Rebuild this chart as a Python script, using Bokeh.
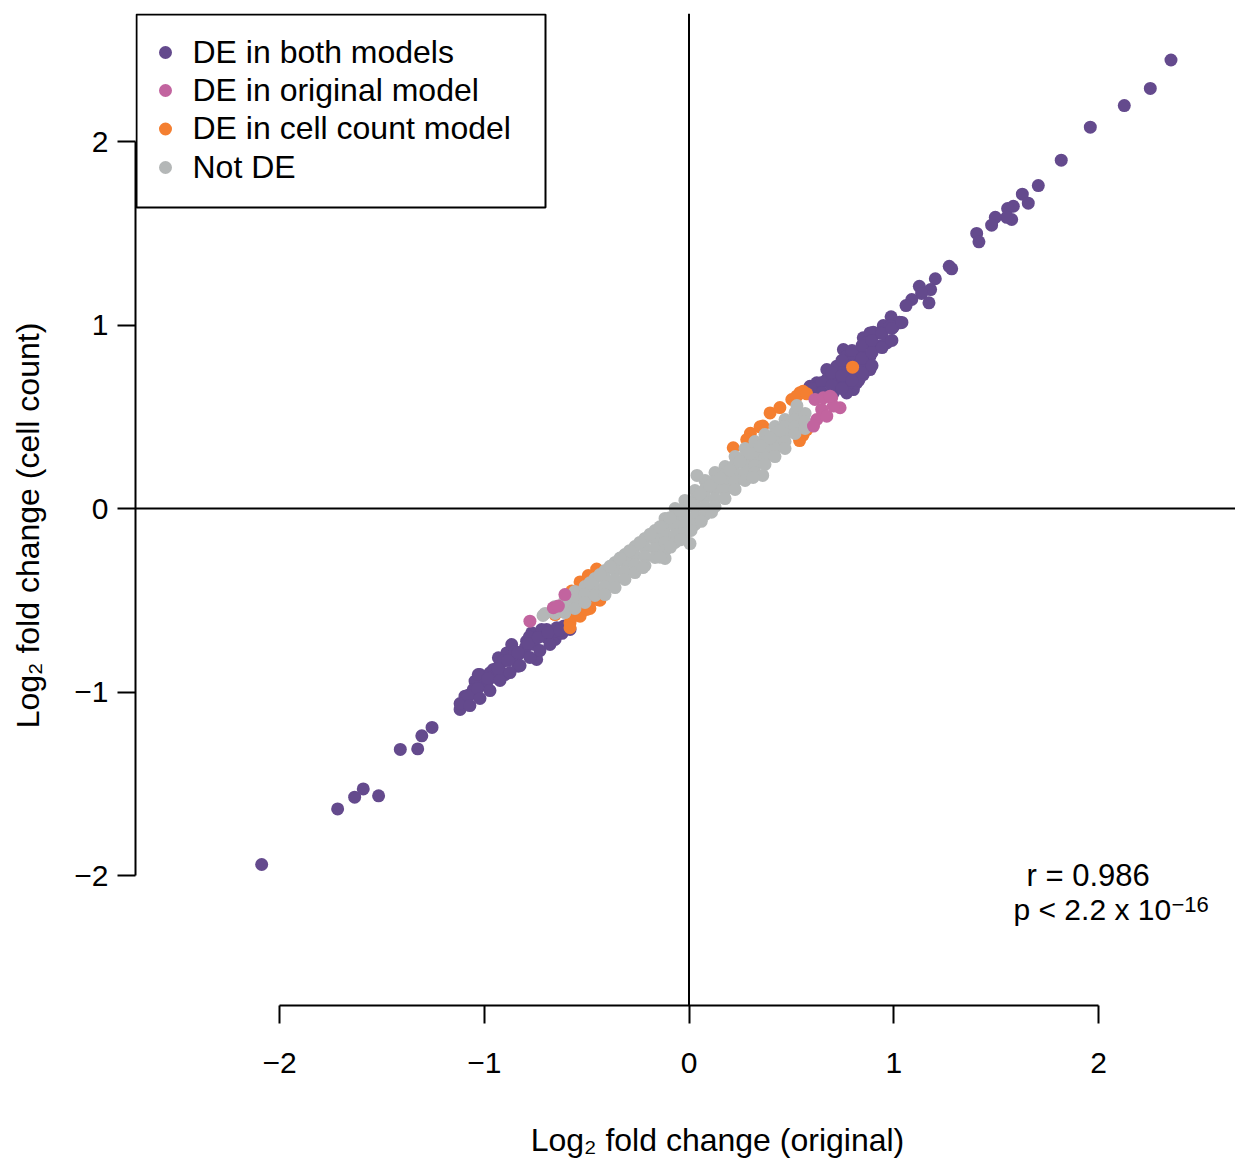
import math
from bokeh.plotting import figure
from bokeh.models import Range1d, LinearAxis, FixedTicker, Span, Label
from bokeh.embed import file_html
from bokeh.resources import INLINE

# ---------------- data (log2 fold change: original, cell count) ----------------
de_both = [
    (2.354, 2.444), (2.253, 2.289), (2.126, 2.196), (1.960, 2.078), (1.818, 1.898),
    (1.706, 1.760), (1.628, 1.713), (1.657, 1.664), (1.584, 1.647), (1.556, 1.635),
    (1.576, 1.575), (1.552, 1.587), (1.496, 1.587), (1.478, 1.544), (1.405, 1.499),
    (1.416, 1.453), (1.271, 1.320), (1.283, 1.306), (1.203, 1.252), (1.125, 1.211),
    (1.180, 1.193), (1.136, 1.172), (1.172, 1.121), (1.088, 1.139), (1.060, 1.106),
    (0.987, 1.045), (1.027, 1.015), (0.998, 0.990), (0.949, 0.997), (0.900, 0.961),
    (0.851, 0.930),
    (1.031, 1.012), (0.982, 0.994), (0.933, 0.957), (0.884, 0.957), (0.868, 0.903),
    (0.933, 0.885), (0.835, 0.848), (0.754, 0.866), (0.770, 0.830), (0.884, 0.830),
    (0.803, 0.812), (0.721, 0.775), (0.673, 0.757), (0.851, 0.730), (0.754, 0.685),
    (0.673, 0.703), (0.624, 0.685), (0.591, 0.666), (0.803, 0.648), (0.770, 0.630),
    (0.819, 0.685), (0.884, 0.757), (0.966, 0.903), (0.721, 0.666), (0.787, 0.740),
    (0.738, 0.720), (0.820, 0.780), (0.705, 0.630), (0.640, 0.640), (0.850, 0.800),
    (0.900, 0.870), (0.787, 0.690), (0.690, 0.690), (0.760, 0.760), (0.830, 0.700),
    (0.610, 0.640),
    (0.601, 0.654), (0.650, 0.687), (0.650, 0.632), (0.698, 0.741), (0.698, 0.670),
    (0.747, 0.807), (0.747, 0.725), (0.747, 0.654), (0.796, 0.861), (0.796, 0.779),
    (0.796, 0.698), (0.845, 0.888), (0.845, 0.817), (0.845, 0.741), (0.894, 0.916),
    (0.894, 0.850), (0.894, 0.779), (0.943, 0.954), (0.943, 0.877), (0.991, 0.981),
    (0.991, 0.916), (1.040, 1.014),
    (-2.087, -1.940), (-1.716, -1.637), (-1.633, -1.573), (-1.591, -1.528), (-1.516, -1.566),
    (-1.410, -1.313), (-1.325, -1.310), (-1.305, -1.239), (-1.255, -1.193),
    (-1.118, -1.095), (-1.110, -1.068), (-1.094, -1.023), (-1.053, -0.996), (-1.045, -0.941),
    (-1.021, -0.905), (-0.988, -0.941), (-0.947, -0.877), (-0.931, -0.814), (-0.899, -0.905),
    (-0.890, -0.787), (-0.866, -0.741), (-0.834, -0.859), (-0.825, -0.787), (-0.793, -0.723),
    (-0.744, -0.823), (-0.768, -0.677), (-0.728, -0.696), (-0.695, -0.659), (-0.654, -0.714),
    (-0.646, -0.650), (-0.842, -0.805), (-0.923, -0.850), (-0.972, -0.895), (-1.070, -1.014),
    (-0.581, -0.659), (-1.086, -1.041), (-1.053, -0.986), (-1.029, -0.905), (-0.988, -0.950),
    (-0.955, -0.877), (-0.870, -0.820), (-0.800, -0.760), (-0.760, -0.740), (-0.700, -0.700),
    (-0.620, -0.680), (-0.905, -0.830), (-0.960, -0.920), (-1.000, -0.960), (-0.850, -0.780),
    (-0.720, -0.660), (-0.780, -0.700), (-0.660, -0.670), (-0.610, -0.640),
    (-1.118, -1.063), (-1.079, -1.019), (-1.070, -1.074), (-1.031, -0.981), (-1.021, -1.035),
    (-0.982, -0.926), (-0.972, -0.992), (-0.933, -0.872), (-0.923, -0.937), (-0.884, -0.828),
    (-0.874, -0.894), (-0.835, -0.785), (-0.825, -0.856), (-0.786, -0.736), (-0.777, -0.812),
    (-0.737, -0.703), (-0.728, -0.774), (-0.689, -0.676), (-0.679, -0.741), (-0.630, -0.665),
    (-0.591, -0.654),
]

de_original = [
    (-0.606, -0.469), (-0.777, -0.614), (-0.663, -0.541), (-0.638, -0.532),
    (0.615, 0.594), (0.656, 0.603), (0.697, 0.603), (0.738, 0.549), (0.648, 0.540),
    (0.624, 0.485), (0.673, 0.503), (0.705, 0.558), (0.608, 0.449), (0.689, 0.612),
]

de_cellcount = [
    (0.396, 0.521), (0.444, 0.550), (0.502, 0.594), (0.542, 0.631), (0.557, 0.639),
    (0.361, 0.449), (0.557, 0.400), (0.540, 0.370), (0.799, 0.770), (0.347, 0.445),
    (0.300, 0.410), (0.216, 0.331), (0.282, 0.376), (0.526, 0.612), (0.575, 0.430),
    (0.575, 0.625),
    (-0.451, -0.330), (-0.492, -0.365), (-0.532, -0.400), (-0.573, -0.450),
    (-0.654, -0.578), (-0.581, -0.623), (-0.565, -0.587), (-0.484, -0.545),
    (-0.435, -0.500), (-0.581, -0.650), (-0.532, -0.587), (-0.500, -0.550),
    (-0.451, -0.496),
]

not_de = [
    (-0.703, -0.572),
    (-0.654, -0.534), (-0.654, -0.572),
    (-0.606, -0.501), (-0.606, -0.534), (-0.606, -0.567),
    (-0.557, -0.452), (-0.557, -0.496), (-0.557, -0.545),
    (-0.508, -0.425), (-0.508, -0.469), (-0.508, -0.512),
    (-0.459, -0.381), (-0.459, -0.431), (-0.459, -0.474),
    (-0.410, -0.338), (-0.410, -0.381), (-0.410, -0.425), (-0.410, -0.469),
    (-0.361, -0.294), (-0.361, -0.338), (-0.361, -0.387), (-0.361, -0.431),
    (-0.313, -0.251), (-0.313, -0.294), (-0.313, -0.343), (-0.313, -0.387),
    (-0.264, -0.207), (-0.264, -0.256), (-0.264, -0.305), (-0.264, -0.349),
    (-0.215, -0.163), (-0.215, -0.213), (-0.215, -0.262), (-0.215, -0.311),
    (-0.166, -0.120), (-0.166, -0.169), (-0.166, -0.218), (-0.166, -0.267),
    (-0.117, -0.054), (-0.117, -0.098), (-0.117, -0.142), (-0.117, -0.185), (-0.117, -0.229),
    (-0.068, 0.000), (-0.068, -0.049), (-0.068, -0.093), (-0.068, -0.142), (-0.068, -0.185),
    (-0.020, 0.044), (-0.020, 0.000), (-0.020, -0.049), (-0.020, -0.093), (-0.020, -0.136),
    (0.029, 0.098), (0.029, 0.049), (0.029, 0.005), (0.029, -0.044), (0.029, -0.087),
    (0.078, 0.153), (0.078, 0.104), (0.078, 0.060), (0.078, 0.011), (0.078, -0.033),
    (0.127, 0.196), (0.127, 0.147), (0.127, 0.104), (0.127, 0.054), (0.127, 0.011),
    (0.176, 0.229), (0.176, 0.185), (0.176, 0.142), (0.176, 0.098), (0.176, 0.054),
    (0.225, 0.283), (0.225, 0.240), (0.225, 0.191), (0.225, 0.147), (0.225, 0.104),
    (0.274, 0.327), (0.274, 0.283), (0.274, 0.240), (0.274, 0.196), (0.274, 0.153),
    (0.322, 0.365), (0.322, 0.322), (0.322, 0.278), (0.322, 0.234), (0.322, 0.196),
    (0.371, 0.403), (0.371, 0.360), (0.371, 0.322), (0.371, 0.278), (0.371, 0.240),
    (0.420, 0.447), (0.420, 0.403), (0.420, 0.365), (0.420, 0.327), (0.420, 0.283),
    (0.469, 0.485), (0.469, 0.447), (0.469, 0.403), (0.469, 0.365), (0.469, 0.327),
    (0.518, 0.523), (0.518, 0.485), (0.518, 0.447), (0.518, 0.409),
    (0.567, 0.518), (0.567, 0.474), (0.567, 0.436),
    (0.005, -0.191), (-0.117, -0.272), (0.039, 0.180), (0.527, 0.561), (-0.713, -0.583),
    (0.360, 0.180), (-0.142, -0.265), (-0.225, -0.322), (0.313, 0.169),
    (-0.240, -0.185), (-0.190, -0.140), (-0.142, -0.100), (-0.093, -0.050), (-0.044, -0.010),
    (0.005, 0.030), (0.054, 0.080), (0.103, 0.125), (0.151, 0.165), (0.200, 0.210),
    (0.249, 0.255), (0.298, 0.300), (0.347, 0.340), (0.396, 0.385), (0.444, 0.425),
    (-0.290, -0.230), (-0.337, -0.270), (-0.386, -0.315), (-0.435, -0.360), (-0.484, -0.405),
    (-0.040, -0.170), (0.010, -0.120), (0.060, -0.070), (0.110, -0.020), (-0.090, -0.210),
]

series_names = ["DE in both models", "DE in original model", "DE in cell count model", "Not DE"]
series_colors = ["#644A8D", "#C2649F", "#F47F31", "#B4B7B7"]
x_ticks = [-2, -1, 0, 1, 2]
y_ticks = [-2, -1, 0, 1, 2]
tick_labels = ["\u22122", "\u22121", "0", "1", "2"]
x_title = "Log\u2082 fold change (original)"
y_title = "Log\u2082 fold change (cell count)"
r_text = "r = 0.986"
p_text = "p < 2.2 x 10"
p_exp = "\u221216"

# ---------------- layout geometry (screen pixels) ----------------
W, H = 1235, 1160
FL, FR, FT, FB = 135, 1235, 13, 1005
PPX = (1098 - 279) / 4.0
PPY = (875 - 141) / 4.0
XMIN = -2 - (279 - FL) / PPX
XMAX = XMIN + (FR - FL) / PPX
YMAX = 2 + (141 - FT) / PPY
YMIN = YMAX - (FB - FT) / PPY


def X(px):
    return XMIN + (px - FL) / PPX


def Y(py):
    return YMAX - (py - FT) / PPY


FONT = "Liberation Sans"
BASE_FIX = 12.5  # alphabetic-baseline correction observed for Label

p = figure(width=W, height=H, x_range=Range1d(XMIN, XMAX), y_range=Range1d(YMIN, YMAX),
           output_backend="svg", toolbar_location=None,
           x_axis_type=None, y_axis_type=None,
           min_border_left=FL, min_border_right=W - FR, min_border_top=FT, min_border_bottom=H - FB)
p.outline_line_color = None
p.background_fill_color = "white"
p.border_fill_color = "white"

# points (purple, orange, grey, pink)
order = [(de_both, series_colors[0]), (de_cellcount, series_colors[2]),
         (not_de, series_colors[3]), (de_original, series_colors[1])]
for pts, col in order:
    xs = [a for a, b in pts]
    ys = [b for a, b in pts]
    p.scatter(xs, ys, size=13, fill_color=col, line_color=None)

# reference lines at 0
p.add_layout(Span(location=0, dimension="width", line_color="black", line_width=2))
p.add_layout(Span(location=0, dimension="height", line_color="black", line_width=2))


def make_axis(ticks, standoff, label, label_standoff):
    return LinearAxis(ticker=FixedTicker(ticks=ticks), bounds=(-2, 2),
                      major_label_overrides={t: l for t, l in zip(ticks, tick_labels)},
                      axis_line_width=2, axis_line_color="black",
                      major_tick_line_width=2, major_tick_line_color="black",
                      major_tick_out=18, major_tick_in=0,
                      minor_tick_out=0, minor_tick_in=0,
                      major_label_text_font=FONT, major_label_text_font_size="30px",
                      major_label_text_color="black",
                      major_label_standoff=standoff,
                      axis_label=label, axis_label_standoff=label_standoff,
                      axis_label_text_font=FONT, axis_label_text_font_size="32px",
                      axis_label_text_font_style="normal", axis_label_text_color="black")

xa = make_axis(x_ticks, 29, "\u2002\u2002\u2002\u2002" + x_title, 46)
ya = make_axis(y_ticks, 9, y_title + "\u2002\u2002", 25)
p.add_layout(xa, "below")
p.add_layout(ya, "left")

# correlation annotation
p.add_layout(Label(x=X(1026), y=Y(887 - BASE_FIX), text=r_text, text_align="left",
                   text_baseline="alphabetic", text_font=FONT, text_font_size="31px",
                   text_color="black"))
p.add_layout(Label(x=X(1013), y=Y(921 - BASE_FIX), text=p_text, text_align="left",
                   text_baseline="alphabetic", text_font=FONT, text_font_size="30px",
                   text_color="black"))
p.add_layout(Label(x=X(1171), y=Y(916 - BASE_FIX), text=p_exp, text_align="left",
                   text_baseline="alphabetic", text_font=FONT, text_font_size="22px",
                   text_color="black"))

# legend
p.quad(left=[X(136)], right=[X(545)], top=[Y(14)], bottom=[Y(207)],
       fill_color="white", line_color="black", line_width=2)
row_centers = [52, 90, 128.5, 167]
row_baselines = [63.5, 102, 140, 178.5]
p.scatter([X(165)] * 4, [Y(c) for c in row_centers], size=13,
          fill_color=series_colors, line_color=None)
for name, b in zip(series_names, row_baselines):
    p.add_layout(Label(x=X(192), y=Y(b - BASE_FIX), text=name, text_align="left",
                       text_baseline="alphabetic", text_font=FONT, text_font_size="32px",
                       text_color="black"))

open("out.html", "w").write(file_html(p, INLINE))
